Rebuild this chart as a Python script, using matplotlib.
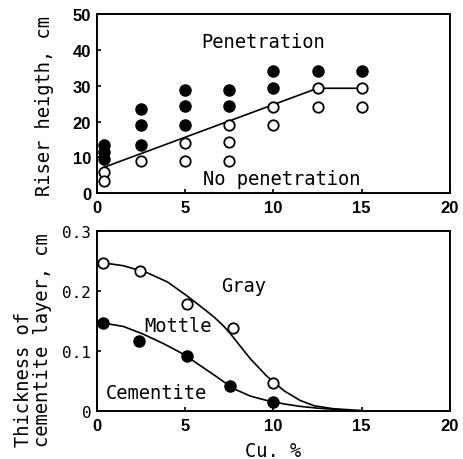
import matplotlib
matplotlib.use("Agg")
import matplotlib.pyplot as plt

# ---- top panel: riser height vs Cu % ----
pen_x = [0.4, 0.4, 0.4, 2.5, 2.5, 2.5, 5, 5, 5, 7.5, 7.5, 10, 10, 12.5, 15]
pen_y = [13.5, 11.4, 9.4, 23.5, 18.9, 13.5, 28.9, 24.3, 18.9, 28.9, 24.3, 34.0, 29.3, 34.0, 34.0]
nopen_x = [0.4, 0.4, 2.5, 5, 5, 7.5, 7.5, 7.5, 10, 10, 12.5, 12.5, 15, 15]
nopen_y = [6.0, 3.5, 8.9, 14.0, 8.9, 19.1, 14.2, 8.9, 24.0, 19.1, 29.3, 24.0, 29.3, 24.0]
bound_x = [0.4, 12.5, 15]
bound_y = [7.2, 29.3, 29.3]

# ---- bottom panel: cementite layer thickness vs Cu % ----
gray_x = [0.35, 2.45, 5.1, 7.7, 10.0]
gray_y = [0.247, 0.234, 0.1785, 0.138, 0.047]
cem_x = [0.35, 2.4, 5.1, 7.55, 10.0]
cem_y = [0.146, 0.1165, 0.0925, 0.042, 0.016]
gray_line_x = [0.3, 1.5, 2.8, 4.0, 5.1, 6.2, 6.7, 7.2, 7.7, 8.1, 8.7, 9.6, 10.6, 11.5, 12.3, 13.4, 15]
gray_line_y = [0.247, 0.242, 0.231, 0.215, 0.192, 0.167, 0.155, 0.141, 0.124, 0.109, 0.087, 0.059, 0.034,
               0.018, 0.009, 0.004, 0.001]
cem_line_x = [0.3, 1.5, 2.6, 3.8, 4.9, 6.0, 6.8, 7.7, 8.7, 9.6, 10.6, 11.5, 12.5, 14]
cem_line_y = [0.147, 0.141, 0.1285, 0.112, 0.095, 0.073, 0.057, 0.038, 0.025, 0.018, 0.012, 0.008, 0.005, 0.002]

mono = "DejaVu Sans Mono"
sans = "Liberation Sans"

fig = plt.figure(figsize=(4.63, 4.60), dpi=100)
ax1 = fig.add_axes([0.209, 0.578, 0.763, 0.389])
ax2 = fig.add_axes([0.209, 0.104, 0.763, 0.392])

for ax in (ax1, ax2):
    for s in ax.spines.values():
        s.set_linewidth(1.4)
    ax.tick_params(direction="in", length=3, width=1.2, top=False, right=False)
    ax.set_xlim(0, 20)
    ax.set_xticks([0, 5, 10, 15, 20])
    ax.set_xticklabels(["0", "5", "10", "15", "20"], fontfamily=sans, fontsize=12, fontweight="bold")
    ax.tick_params(axis="x", pad=5)

# top
ax1.plot(bound_x, bound_y, color="black", lw=1.2, zorder=1)
ax1.plot(pen_x, pen_y, "o", color="black", ms=8, zorder=3)
ax1.plot(nopen_x, nopen_y, "o", mfc="white", mec="black", mew=1.3, ms=7.5, zorder=3)
ax1.set_ylim(0, 50)
ax1.set_yticks([0, 10, 20, 30, 40, 50])
ax1.set_yticklabels(["0", "10", "20", "30", "40", "50"], fontfamily=sans, fontsize=12, fontweight="bold")
ax1.tick_params(axis="y", pad=4)
ax1.text(9.4, 42.5, "Penetration", fontfamily=mono, fontsize=13.5, ha="center", va="center")
ax1.text(10.5, 4.0, "No penetration", fontfamily=mono, fontsize=13.5, ha="center", va="center")
fig.text(45 / 463, 1 - 106 / 460, "Riser heigth, cm", fontfamily=mono, fontsize=13.5,
         rotation=90, ha="center", va="center")

# bottom
ax2.plot(gray_line_x, gray_line_y, color="black", lw=1.2, zorder=1)
ax2.plot(cem_line_x, cem_line_y, color="black", lw=1.2, zorder=1)
ax2.plot(gray_x, gray_y, "o", mfc="white", mec="black", mew=1.3, ms=7.5, zorder=3)
ax2.plot(cem_x, cem_y, "o", color="black", ms=8, zorder=3)
ax2.set_ylim(0, 0.3)
ax2.set_yticks([0, 0.1, 0.2, 0.3])
ax2.set_yticklabels(["0", "0.1", "0.2", "0.3"], fontfamily=mono, fontsize=11.5)
ax2.tick_params(axis="y", pad=4)
ax2.text(8.3, 0.209, "Gray", fontfamily=mono, fontsize=13.5, ha="center", va="center")
ax2.text(4.62, 0.1425, "Mottle", fontfamily=mono, fontsize=13.5, ha="center", va="center")
ax2.text(3.4, 0.0316, "Cementite", fontfamily=mono, fontsize=13.5, ha="center", va="center")
fig.text(273 / 463, 1 - 452 / 460, "Cu. %", fontfamily=mono, fontsize=13.5, ha="center", va="center")
fig.text(33 / 463, 1 - 447 / 460, "Thickness of\ncementite layer, cm", fontfamily=mono, fontsize=13.5,
         rotation=90, ha="center", va="bottom", multialignment="left", linespacing=1.0)

fig.savefig("out.png", dpi=100)
